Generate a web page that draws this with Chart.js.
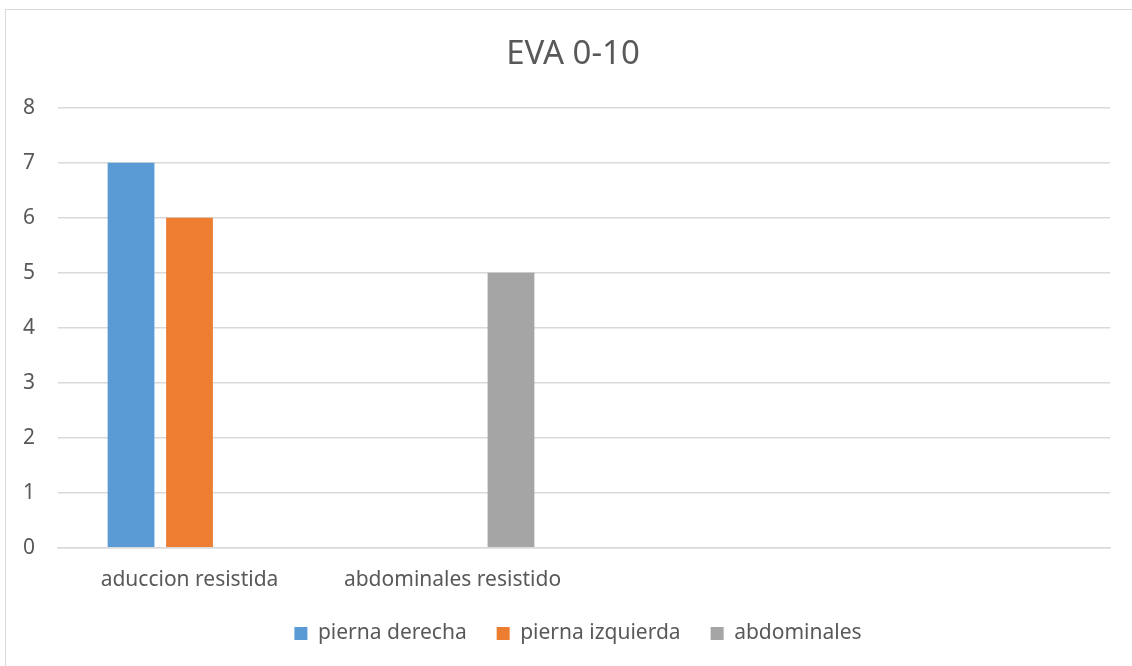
<!DOCTYPE html>
<html>
<head>
<meta charset="utf-8">
<script src="https://cdn.jsdelivr.net/npm/chart.js@4.4.0/dist/chart.umd.min.js"></script>
<style>
  html, body { margin: 0; padding: 0; background: #fff; }
  #wrap { width: 1132px; height: 666px; }
</style>
</head>
<body>
<div id="wrap"><canvas id="g1"></canvas></div>
<script>
var categories = ['aduccion resistida', 'abdominales resistido', '', ''];
var piernaDerecha = [7, null, null, null];
var piernaIzquierda = [6, null, null, null];
var abdominales = [null, 5, null, null];
var yTicks = [0, 1, 2, 3, 4, 5, 6, 7, 8];

var textColor = '#595959';
var fontName = 'Noto Sans';

// light frame like the spreadsheet chart box
var frame = {
    id: 'frame',
    beforeDraw: function (chart) {
        var ctx = chart.ctx;
        ctx.save();
        ctx.fillStyle = '#fff';
        ctx.fillRect(0, 0, chart.width, chart.height);
        ctx.strokeStyle = '#d9d9d9';
        ctx.lineWidth = 1;
        ctx.strokeRect(5.5, 9.5, 1200, 800);
        ctx.restore();
    }
};

// title and legend sit a bit right of the canvas centre in the original
var nudge = {
    id: 'nudge',
    afterLayout: function (chart) {
        if (chart.titleBlock) chart.titleBlock.left += 36;
        if (chart.legend) chart.legend.left += 46;
    }
};

var data1 = {
    labels: categories,
    datasets: [
        {
            label: 'pierna derecha',
            data: piernaDerecha,
            backgroundColor: '#5b9bd5'
        },
        {
            label: 'pierna izquierda',
            data: piernaIzquierda,
            backgroundColor: '#ed7d31'
        },
        {
            label: 'abdominales',
            data: abdominales,
            backgroundColor: '#a5a5a5'
        }
    ]
};

new Chart(document.getElementById('g1'), {
    type: 'bar',
    data: data1,
    plugins: [frame, nudge],
    options: {
        responsive: true,
        maintainAspectRatio: false,
        animation: false,
        categoryPercentage: 0.667,
        barPercentage: 0.8,
        layout: {
            padding: { top: 35, left: 0, right: 22, bottom: 12 }
        },
        plugins: {
            title: {
                display: true,
                text: 'EVA 0-10',
                color: textColor,
                font: { family: fontName, size: 33, weight: 'normal' },
                padding: { top: 0, bottom: 33 }
            },
            legend: {
                position: 'bottom',
                labels: {
                    color: textColor,
                    font: { family: fontName, size: 21 },
                    boxWidth: 13,
                    boxHeight: 13,
                    padding: 30
                }
            },
            tooltip: { enabled: false }
        },
        scales: {
            x: {
                grid: { display: false, drawTicks: false },
                border: { color: '#d9d9d9', width: 1.5 },
                ticks: {
                    color: textColor,
                    font: { family: fontName, size: 21 },
                    padding: 20,
                    maxRotation: 0
                },
                // pull the legend a little closer to the category labels
                afterFit: function (axis) {
                    axis.height -= 20;
                }
            },
            y: {
                min: 0,
                max: 8,
                afterBuildTicks: function (axis) {
                    axis.ticks = yTicks.map(function (v) { return { value: v }; });
                },
                grid: { color: '#d9d9d9', lineWidth: 1.5, drawTicks: false },
                border: { display: false },
                ticks: {
                    color: textColor,
                    font: { family: fontName, size: 21 },
                    padding: 23
                }
            }
        }
    }
});
</script>
</body>
</html>
